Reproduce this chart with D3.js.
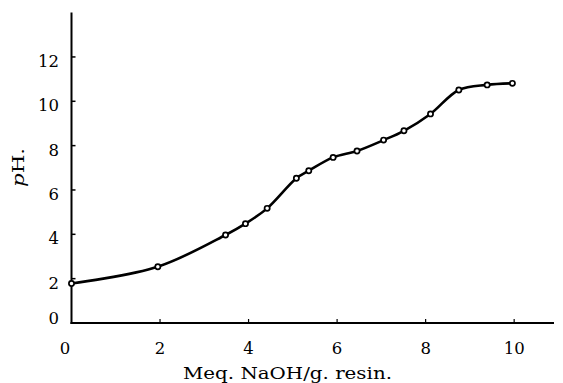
<!DOCTYPE html>
<html>
<head>
<meta charset="utf-8">
<script src="https://cdn.jsdelivr.net/npm/d3@7"></script>
<style>
  body { margin: 0; background: #fff; }
  text { font-family: "DejaVu Serif", "Liberation Serif", serif; fill: #000; }
</style>
</head>
<body>
<div id="chart"></div>
<script>
// values
var meq = [0, 1.95, 3.48, 3.93, 4.42, 5.08, 5.36, 5.91, 6.45, 7.05, 7.51, 8.11, 8.75, 9.39, 9.96];
var ph  = [1.78, 2.54, 3.97, 4.48, 5.17, 6.53, 6.87, 7.47, 7.76, 8.25, 8.67, 9.43, 10.51, 10.74, 10.81];
var xTicks = [0, 2, 4, 6, 8, 10];
var yTicks = [0, 2, 4, 6, 8, 10, 12];

var W = 563, H = 383;
var svg = d3.select("#chart").append("svg")
            .attr("width", W)
            .attr("height", H);

var x = d3.scaleLinear().domain([0, 10.9]).range([71.5, 554]);
var y = d3.scaleLinear().domain([0, 14]).range([323, 12.6]);

var pts = meq.map(function(d, i) { return [d, ph[i]]; });

// axes lines
svg.append("line")
   .attr("x1", x(0)).attr("x2", x(0))
   .attr("y1", y(0) + 1).attr("y2", y(14))
   .attr("stroke", "black").attr("stroke-width", 2);
svg.append("line")
   .attr("x1", x(0) - 1).attr("x2", x(10.9))
   .attr("y1", y(0)).attr("y2", y(0))
   .attr("stroke", "black").attr("stroke-width", 2.2);

// ticks point inward
svg.selectAll(".ytick").data(yTicks.filter(function(d){ return d > 0; }))
   .enter().append("line")
   .attr("x1", x(0)).attr("x2", x(0) + 4)
   .attr("y1", function(d){ return y(d); })
   .attr("y2", function(d){ return y(d); })
   .attr("stroke", "black").attr("stroke-width", 1.5);
svg.selectAll(".xtick").data(xTicks.filter(function(d){ return d > 0; }))
   .enter().append("line")
   .attr("x1", function(d){ return x(d); })
   .attr("x2", function(d){ return x(d); })
   .attr("y1", y(0)).attr("y2", y(0) - 4)
   .attr("stroke", "black").attr("stroke-width", 1.2);

// tick labels
svg.selectAll(".ylab").data(yTicks)
   .enter().append("text")
   .attr("x", 59)
   .attr("y", function(d){ return y(d) + (d == 0 ? 1 : 10); })
   .attr("text-anchor", "end")
   .attr("font-size", "16.5px")
   .text(function(d){ return d; });
svg.selectAll(".xlab").data(xTicks)
   .enter().append("text")
   .attr("x", function(d){ return d == 0 ? 65 : x(d); })
   .attr("y", 354)
   .attr("text-anchor", "middle")
   .attr("font-size", "16.5px")
   .text(function(d){ return d; });

// axis titles (wide Century-like face, so stretch the glyphs)
svg.append("text")
   .attr("x", 183).attr("y", 379)
   .attr("font-size", "16.5px")
   .attr("textLength", 209)
   .attr("lengthAdjust", "spacingAndGlyphs")
   .text("Meq. NaOH/g. resin.");
var yl = svg.append("text")
   .attr("x", -187).attr("y", 24)
   .attr("transform", "rotate(-90)")
   .attr("font-size", "16.5px")
   .attr("textLength", 39)
   .attr("lengthAdjust", "spacingAndGlyphs");
yl.append("tspan").attr("font-style", "italic").text("p");
yl.append("tspan").text("H.");

// curve
var line = d3.line()
   .x(function(d){ return x(d[0]); })
   .y(function(d){ return y(d[1]); })
   .curve(d3.curveCatmullRom.alpha(0.5));
svg.append("path").datum(pts)
   .attr("d", line)
   .attr("fill", "none")
   .attr("stroke", "black")
   .attr("stroke-width", 2.6);

svg.selectAll(".pt").data(pts)
   .enter().append("circle")
   .attr("cx", function(d){ return x(d[0]); })
   .attr("cy", function(d){ return y(d[1]); })
   .attr("r", 2.6)
   .attr("fill", "white")
   .attr("stroke", "black")
   .attr("stroke-width", 1.7);
</script>
</body>
</html>
